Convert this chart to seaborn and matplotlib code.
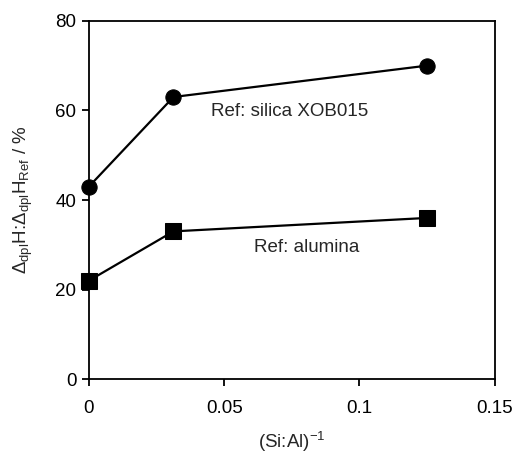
import numpy as np
import matplotlib
matplotlib.use("Agg")
import matplotlib.pyplot as plt
import seaborn as sns
import pandas as pd

# data
x_ratio = [0.0, 0.03125, 0.125]
silica = [43, 63, 70]
alumina = [22, 33, 36]

sns.set_style("ticks")
plt.rcParams['font.family'] = ['Liberation Sans', 'DejaVu Sans']
plt.rcParams['mathtext.fontset'] = 'custom'
plt.rcParams['mathtext.rm'] = 'Liberation Sans'
plt.rcParams['mathtext.it'] = 'Liberation Sans'

df = pd.DataFrame({"x": x_ratio * 2,
                   "y": silica + alumina,
                   "ref": ["silica"] * 3 + ["alumina"] * 3})

fig = plt.figure(figsize=(5.17, 4.63), dpi=100)
ax = fig.add_axes([0.172, 0.181, 0.785, 0.774])

sns.lineplot(data=df, x="x", y="y", style="ref", markers={"silica": "o", "alumina": "s"},
             dashes=False, color="black", markersize=11, linewidth=1.6,
             markeredgecolor="black", legend=False, ax=ax, clip_on=False)

ax.set_xlim(0, 0.15)
ax.set_ylim(0, 80)
ax.set_xticks([0, 0.05, 0.1, 0.15])
ax.set_xticklabels(["0", "0.05", "0.1", "0.15"])
ax.set_yticks([0, 20, 40, 60, 80])
ax.tick_params(direction="out", length=5, width=1.3, labelsize=13.5, colors="black")
ax.tick_params(axis="x", pad=10)
ax.tick_params(axis="y", pad=4)
for s in ax.spines.values():
    s.set_visible(True)
    s.set_linewidth(1.3)
    s.set_color("black")

ax.text(0.0451, 59.7, "Ref: silica XOB015", fontsize=13.5, va="center", ha="left")
ax.text(0.061, 29.4, "Ref: alumina", fontsize=13.5, va="center", ha="left")

ax.set_xlabel(r"(Si:Al)$^{\mathrm{-1}}$", fontsize=13.5, labelpad=9)
ax.set_ylabel(r"$\Delta_{\mathrm{dpl}}$H:$\Delta_{\mathrm{dpl}}$H$_{\mathrm{Ref}}$ / %", fontsize=13.5, labelpad=15)

fig.savefig("out.png", dpi=100)
